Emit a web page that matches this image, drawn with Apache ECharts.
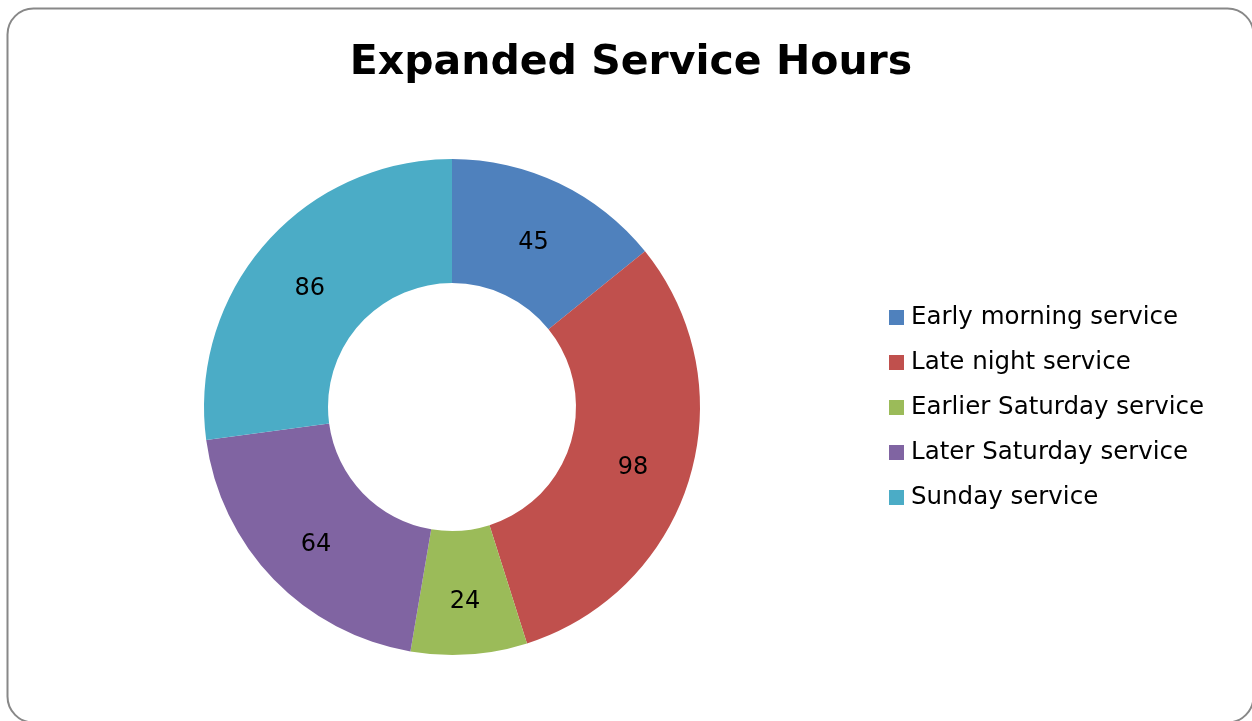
<!DOCTYPE html>
<html><head><meta charset="utf-8">
<script src="https://cdn.jsdelivr.net/npm/echarts@6/dist/echarts.min.js"></script>
<style>html,body{margin:0;padding:0;background:#fff}#c{width:1252px;height:721px}</style>
</head><body><div id="c"></div>
<script>
const categories = ["Early morning service","Late night service","Earlier Saturday service","Later Saturday service","Sunday service"];
const values = [45, 98, 24, 64, 86];
const colors = ["#4F81BD","#C0504D","#9BBB59","#8064A2","#4BACC6"];
const titleText = "Expanded Service Hours";

const chart = echarts.init(document.getElementById('c'), null, {renderer:'canvas'});
const FONT = "'DejaVu Sans', sans-serif";
chart.setOption({
  animation:false,
  backgroundColor:'#fff',
  graphic:[{type:'rect', shape:{x:7.5, y:8.5, width:1246, height:714, r:26}, style:{fill:'none', stroke:'#888', lineWidth:2}, z:-1}],
  title:{text:titleText, left:631, top:43, textAlign:'center', padding:0,
    textStyle:{fontFamily:FONT, fontWeight:'bold', fontSize:41, color:'#000'}},
  legend:{orient:'vertical', left:889, top:305, padding:0, itemWidth:15, itemHeight:15, itemGap:20, icon:'rect',
    textStyle:{fontFamily:FONT, fontSize:24.5, lineHeight:25, color:'#000', padding:[0,0,0,2]}, data:categories},
  series:[{type:'pie', center:[452,407], radius:[124,248], startAngle:90, clockwise:true,
    label:{show:true, position:'inside', formatter:'{v|{c}}', color:'#000',
      rich:{v:{fontFamily:FONT, fontSize:24, color:'#000', padding:[13,0,0,0]}}},
    labelLine:{show:false},
    itemStyle:{borderWidth:0},
    emphasis:{disabled:true},
    data: categories.map((n,i)=>({name:n, value:values[i], itemStyle:{color:colors[i]}}))
  }]
});
</script></body></html>
